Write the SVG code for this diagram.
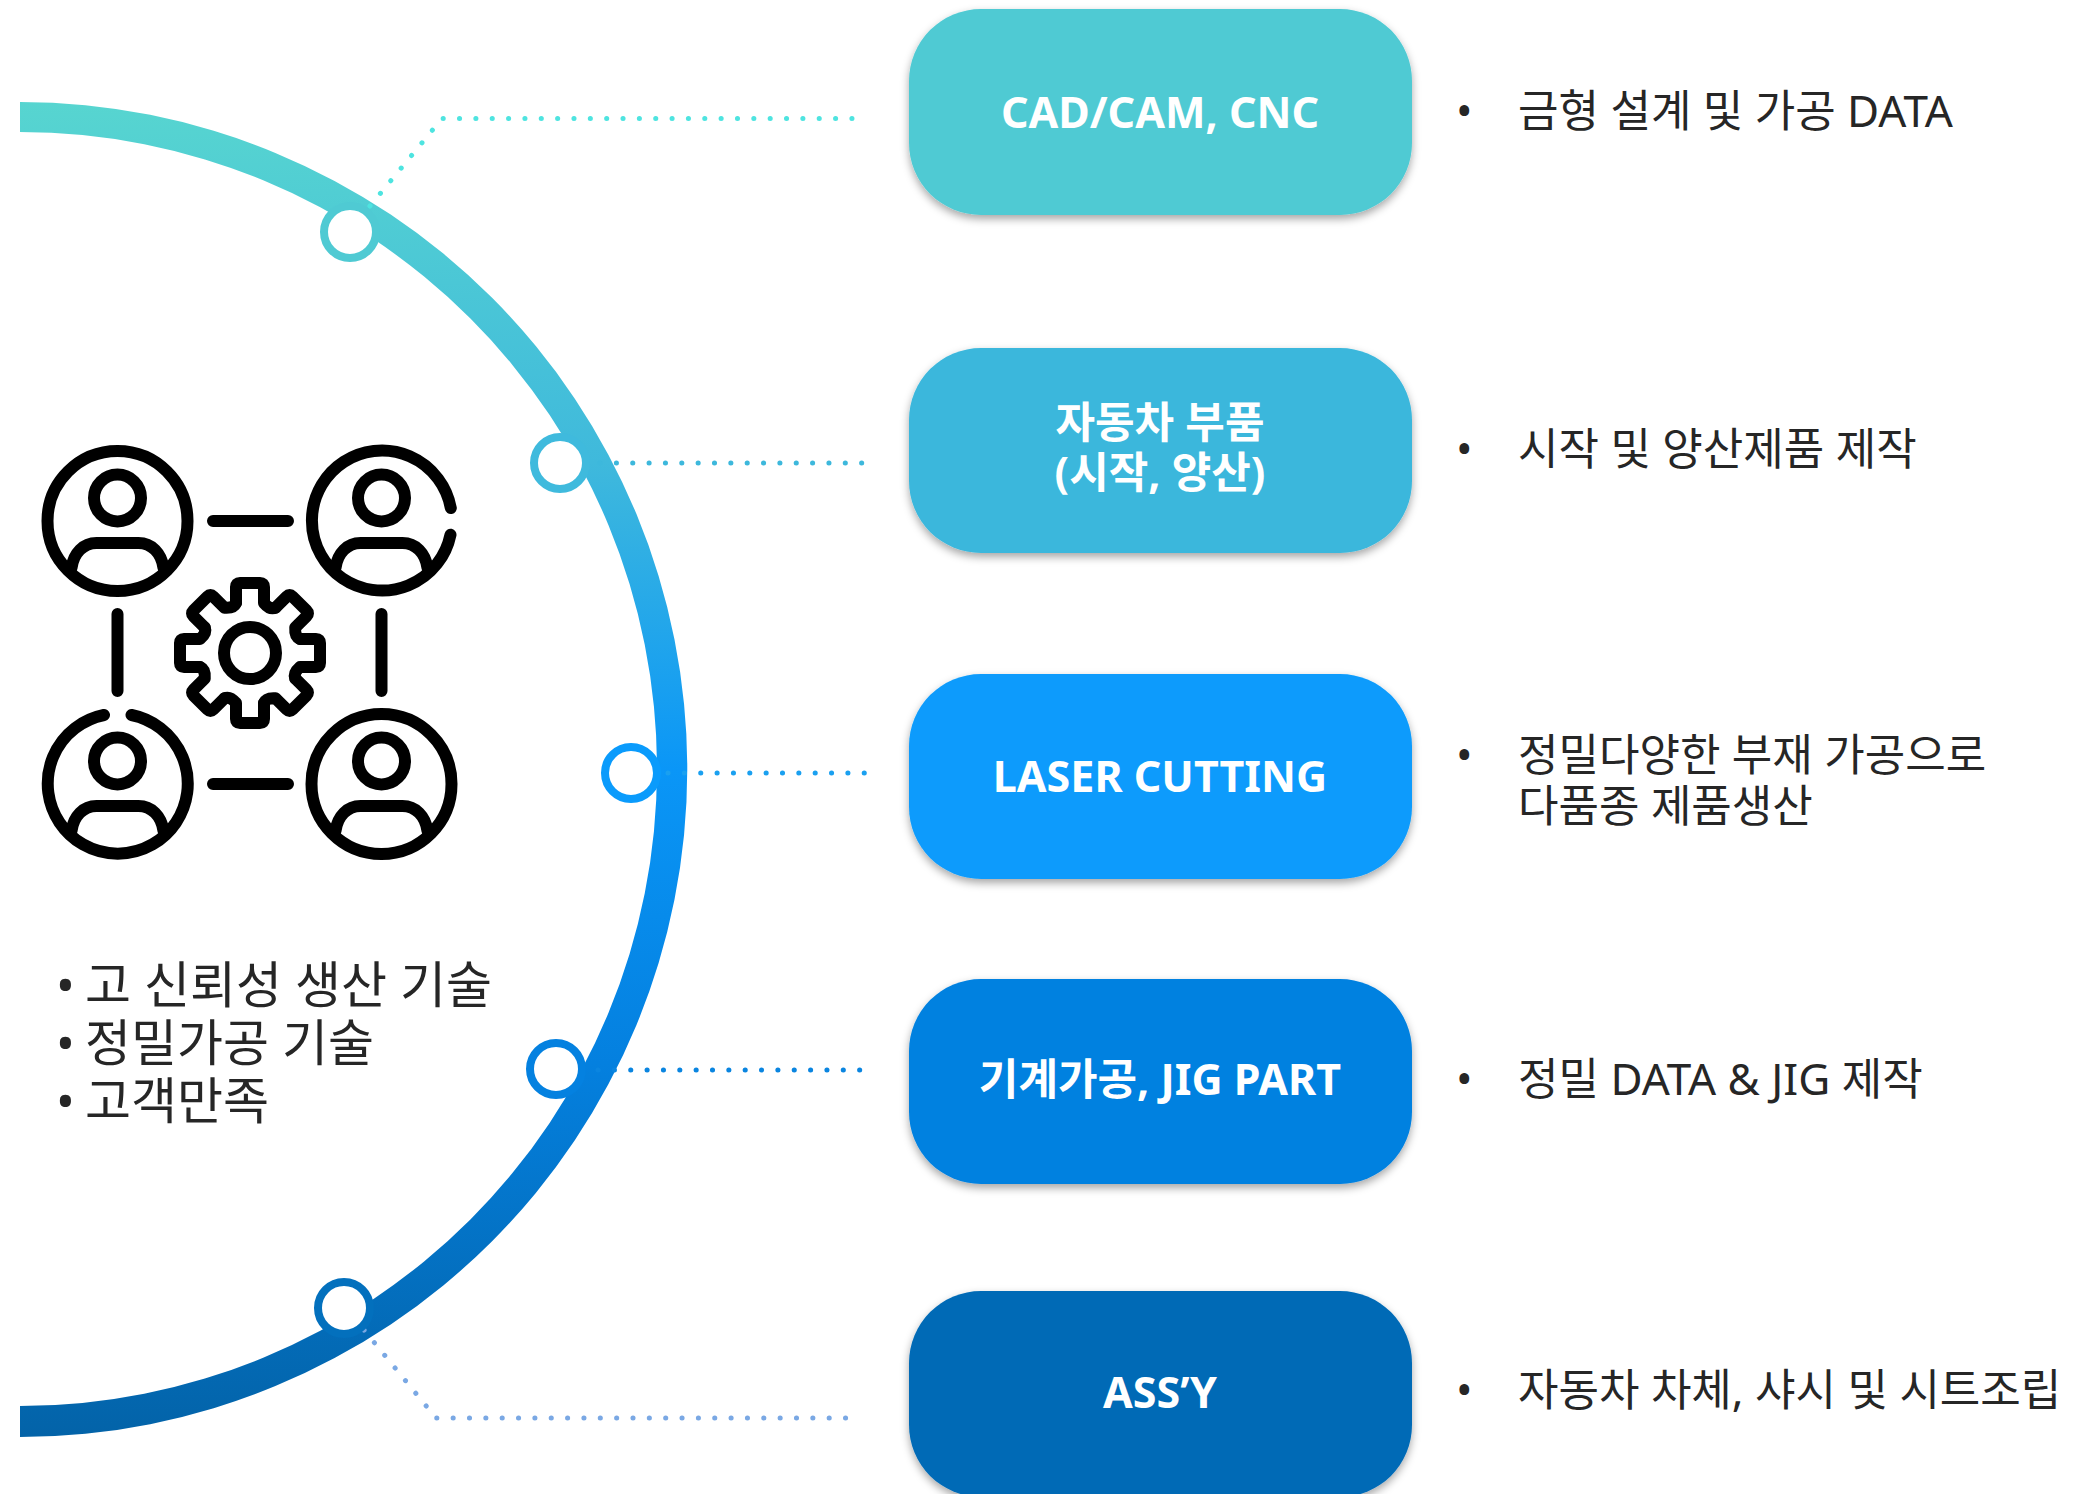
<svg xmlns="http://www.w3.org/2000/svg" xmlns:xlink="http://www.w3.org/1999/xlink" width="2097" height="1494" viewBox="0 0 2097 1494">
<style>
text{font-family:"Noto Sans","Noto Sans CJK KR",sans-serif}
.box{filter:url(#sh)}
.t{font-weight:700;font-size:43px;fill:#fff;text-anchor:middle}
.d{font-size:44px;fill:#262626}
.l{font-size:50px;fill:#262626}
.dot{fill:none;stroke-width:5;stroke-linecap:round;stroke-dasharray:0.1 16.25}
.ring{fill:#fff;stroke-width:8}
.ic{fill:none;stroke:#000;stroke-width:12;stroke-linecap:round;stroke-linejoin:round}
</style>
<defs>
<linearGradient id="arc" gradientUnits="userSpaceOnUse" x1="0" y1="102" x2="0" y2="1437">
<stop offset="0" stop-color="#57D5D0"/><stop offset="0.27" stop-color="#3FB9DC"/><stop offset="0.5" stop-color="#0A96F7"/><stop offset="0.72" stop-color="#0480DF"/><stop offset="1" stop-color="#0363A8"/>
</linearGradient>
<filter id="sh" x="-5%" y="-10%" width="110%" height="125%"><feDropShadow dx="0" dy="4" stdDeviation="4" flood-color="#000" flood-opacity="0.35"/></filter>
<g id="person"><circle cx="0" cy="-23" r="23.5" class="ic"/><path class="ic" d="M-46,47 C-44,32 -34,22 -21,22 L21,22 C34,22 44,32 46,47"/></g>
<path id="tooth" class="ic" d="M-14,-50 L-14,-66 Q-14,-70 -10,-70 L10,-70 Q14,-70 14,-66 L14,-50 Q20,-43 25.46,-45.25"/>
</defs>
<g id="arc-band"><path fill="url(#arc)" d="M20,102 A667,667 0 0 1 20,1437 L20,1406 A636,636 0 0 0 20,132 Z"/></g>
<g id="connectors">
<path class="dot" stroke="#4EE4E0" d="M370,206 L442,118.5 L867,118.5"/>
<path class="dot" stroke="#3DB8DC" d="M600,463 L862,463"/>
<path class="dot" stroke="#1AA0F0" d="M668,773 L868,773"/>
<path class="dot" stroke="#0A85E0" d="M598,1070 L862,1070"/>
<path class="dot" stroke="#7AA8E4" d="M364,1330 L436,1418 L861,1418"/>
</g>
<g id="ring-1"><circle class="ring" stroke="#4FCAD3" cx="350" cy="232" r="26"/></g>
<g id="ring-2"><circle class="ring" stroke="#3FBADD" cx="560" cy="463" r="26"/></g>
<g id="ring-3"><circle class="ring" stroke="#0A9BFC" cx="631" cy="773" r="26"/></g>
<g id="ring-4"><circle class="ring" stroke="#0481E0" cx="556" cy="1069" r="26"/></g>
<g id="ring-5"><circle class="ring" stroke="#0370BD" cx="344" cy="1308" r="26"/></g>
<g id="icon">
<path class="ic" d="M213,521 H288 M213,784 H288 M117.500,614 V691 M381.500,614 V691"/>
<g transform="translate(117.500,521)"><circle r="70" class="ic"/><use href="#person"/></g>
<g transform="translate(381.500,521)"><path class="ic" d="M69.300,-13 A70,70 0 1 0 69,13.700"/><use href="#person"/></g>
<g transform="translate(117.500,784)"><path class="ic" d="M-13.500,-69 A70,70 0 1 0 14,-69"/><use href="#person"/></g>
<g transform="translate(381.500,784)"><circle r="70" class="ic"/><use href="#person"/></g>
<g transform="translate(250,653)"><circle r="26" class="ic"/>
<use href="#tooth"/><use href="#tooth" transform="rotate(45)"/><use href="#tooth" transform="rotate(90)"/><use href="#tooth" transform="rotate(135)"/><use href="#tooth" transform="rotate(180)"/><use href="#tooth" transform="rotate(225)"/><use href="#tooth" transform="rotate(270)"/><use href="#tooth" transform="rotate(315)"/>
</g>
</g>
<g id="left-text" class="l">
<text class="l" x="56" y="1003">•</text><text class="l" x="85" y="1003">고 신뢰성 생산 기술</text>
<text class="l" x="56" y="1061">•</text><text class="l" x="85" y="1061">정밀가공 기술</text>
<text class="l" x="56" y="1119">•</text><text class="l" x="85" y="1119">고객만족</text>
</g>
<g id="node-1"><rect class="box" x="909" y="9" width="503" height="206" rx="72" fill="#4FCAD3"/><text class="t" x="1160" y="128">CAD/CAM, CNC</text></g>
<g id="node-2"><rect class="box" x="909" y="348" width="503" height="205" rx="72" fill="#3AB7DC"/><text class="t" x="1160" y="438">자동차 부품</text><text class="t" x="1160" y="488">(시작, 양산)</text></g>
<g id="node-3"><rect class="box" x="909" y="674" width="503" height="205" rx="72" fill="#0A9BFC"/><text class="t" x="1160" y="792">LASER CUTTING</text></g>
<g id="node-4"><rect class="box" x="909" y="979" width="503" height="205" rx="72" fill="#0481E0"/><text class="t" x="1160" y="1095">기계가공, JIG PART</text></g>
<g id="node-5"><rect class="box" x="909" y="1291" width="503" height="206" rx="72" fill="#036BB6"/><text class="t" x="1160" y="1408">ASS’Y</text></g>
<g id="desc">
<text class="d" x="1456" y="127">•</text><text class="d" x="1518" y="127">금형 설계 및 가공 DATA</text>
<text class="d" x="1456" y="465">•</text><text class="d" x="1518" y="465">시작 및 양산제품 제작</text>
<text class="d" x="1456" y="771">•</text><text class="d" x="1518" y="771">정밀다양한 부재 가공으로</text><text class="d" x="1518" y="822">다품종 제품생산</text>
<text class="d" x="1456" y="1095">•</text><text class="d" x="1518" y="1095">정밀 DATA &amp; JIG 제작</text>
<text class="d" x="1456" y="1406">•</text><text class="d" x="1518" y="1406">자동차 차체, 샤시 및 시트조립</text>
</g>
</svg>
